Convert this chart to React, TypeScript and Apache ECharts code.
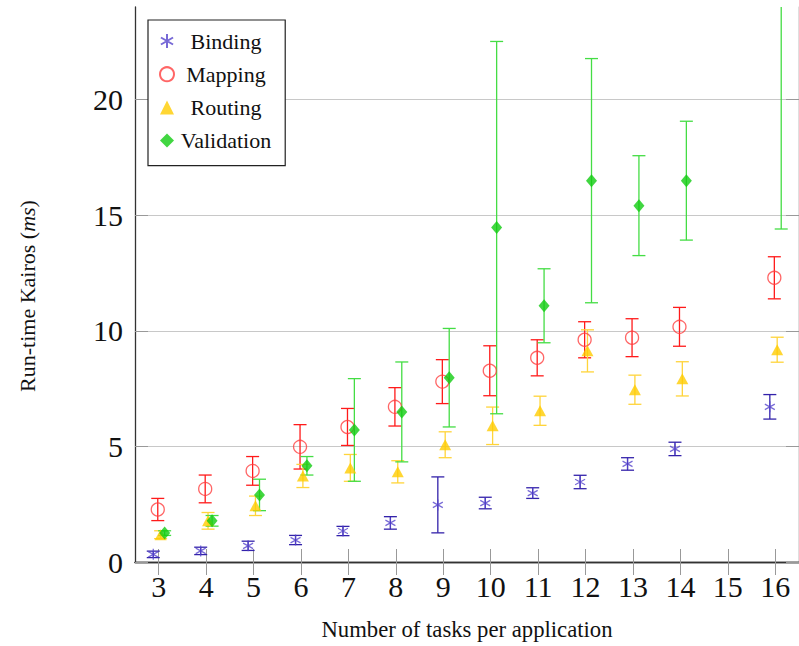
import React, { useEffect, useRef } from "react";
import * as echarts from "echarts";

// x categories: number of tasks per application
const tasks = [3, 4, 5, 6, 7, 8, 9, 10, 11, 12, 13, 14, 16];
const xTicks = [3, 4, 5, 6, 7, 8, 9, 10, 11, 12, 13, 14, 15, 16];
const yTicks = [0, 5, 10, 15, 20];

const bindingMean = [0.33, 0.48, 0.7, 0.95, 1.34, 1.69, 2.47, 2.55, 2.98, 3.46, 4.24, 4.89, 6.71];
const bindingErr = [0.14, 0.16, 0.2, 0.2, 0.2, 0.27, 1.21, 0.25, 0.23, 0.29, 0.27, 0.29, 0.53];

const mappingMean = [2.27, 3.16, 3.94, 4.98, 5.84, 6.71, 7.8, 8.27, 8.83, 9.61, 9.7, 10.17, 12.29];
const mappingErr = [0.48, 0.6, 0.62, 0.96, 0.8, 0.83, 0.95, 1.08, 0.78, 0.78, 0.82, 0.84, 0.91];

const routingMean = [1.18, 1.78, 2.43, 3.72, 4.07, 3.9, 5.07, 5.89, 6.54, 9.13, 7.45, 7.92, 9.18];
const routingErr = [0.17, 0.36, 0.42, 0.5, 0.58, 0.48, 0.56, 0.81, 0.63, 0.91, 0.63, 0.74, 0.54];

const validationMean = [1.25, 1.78, 2.9, 4.16, 5.71, 6.49, 7.97, 14.46, 11.08, 16.49, 15.41, 16.49, 25.6];
const validationErr = [0.1, 0.23, 0.68, 0.4, 2.22, 2.16, 2.13, 8.05, 1.6, 5.28, 2.16, 2.57, 11.2];

const FONT = "Liberation Serif";
const ASTERISK = "path://M0,-10L0,10M-8.66,-5L8.66,5M-8.66,5L8.66,-5";

type Def = {
  name: string;
  mean: number[];
  err: number[];
  offset: number;
  symbol: string;
  size: number | number[];
  itemStyle: any;
  errColor: string;
};

const defs: Def[] = [
  {
    name: "Binding",
    mean: bindingMean,
    err: bindingErr,
    offset: -0.115,
    symbol: ASTERISK,
    size: [10, 11],
    itemStyle: { color: "rgba(0,0,0,0)", borderColor: "#5544cc", borderWidth: 1.3 },
    errColor: "#3322aa",
  },
  {
    name: "Mapping",
    mean: mappingMean,
    err: mappingErr,
    offset: -0.02,
    symbol: "circle",
    size: 13,
    itemStyle: { color: "rgba(0,0,0,0)", borderColor: "#ff4040", borderWidth: 1.3 },
    errColor: "#ff1a1a",
  },
  {
    name: "Routing",
    mean: routingMean,
    err: routingErr,
    offset: 0.04,
    symbol: "triangle",
    size: [12, 11],
    itemStyle: { color: "#ffcc00" },
    errColor: "#ffd43a",
  },
  {
    name: "Validation",
    mean: validationMean,
    err: validationErr,
    offset: 0.125,
    symbol: "diamond",
    size: [11, 13],
    itemStyle: { color: "#11cc11" },
    errColor: "#44dd44",
  },
];

function buildSeries() {
  const out: any[] = [];
  defs.forEach((d) => {
    const data = tasks.map((t, i) => [t + d.offset, d.mean[i], d.err[i]]);
    out.push({
      name: d.name + " error",
      type: "custom",
      data,
      encode: { x: 0, y: 1 },
      renderItem: (params: any, api: any) => {
        const x = api.value(0);
        const y = api.value(1);
        const e = api.value(2);
        const cs = params.coordSys;
        const top = api.coord([x, y + e]);
        const bot = api.coord([x, y - e]);
        const yMin = cs.y;
        const yMax = cs.y + cs.height;
        const t = Math.max(top[1], yMin);
        const b = Math.min(bot[1], yMax);
        const style = { stroke: d.errColor, lineWidth: 1.3 };
        const children: any[] = [
          { type: "line", shape: { x1: top[0], y1: t, x2: top[0], y2: b }, style },
        ];
        if (top[1] >= yMin)
          children.push({ type: "line", shape: { x1: top[0] - 6.5, y1: top[1], x2: top[0] + 6.5, y2: top[1] }, style });
        if (bot[1] <= yMax)
          children.push({ type: "line", shape: { x1: bot[0] - 6.5, y1: bot[1], x2: bot[0] + 6.5, y2: bot[1] }, style });
        return { type: "group", children };
      },
      silent: true,
    });
    out.push({
      name: d.name,
      type: "scatter",
      data: data.map((p) => [p[0], p[1]]),
      symbol: d.symbol,
      symbolSize: d.size,
      itemStyle: d.itemStyle,
      clip: true,
    });
  });
  return out;
}

export default function App() {
  const ref = useRef<HTMLDivElement>(null);
  useEffect(() => {
    if (!ref.current) return;
    const chart = echarts.init(ref.current, null, { renderer: "svg" });
    const axisLine = { show: true, lineStyle: { color: "#333", width: 1.3 } };
    const tick = { show: true, inside: true, length: 13, lineStyle: { color: "#999", width: 1 } };
    chart.setOption({
      animation: false,
      backgroundColor: "#fff",
      textStyle: { fontFamily: FONT },
      grid: { left: 135, top: 7, width: 668, height: 556, containLabel: false },
      graphic: [
        {
          type: "text",
          x: 27,
          y: 296,
          rotation: Math.PI / 2,
          style: {
            text: "Run-time Kairos ({i|ms})",
            fontSize: 22,
            fontFamily: FONT,
            fill: "#111",
            align: "center",
            verticalAlign: "middle",
            rich: { i: { fontStyle: "italic", fontSize: 22, fontFamily: FONT, fill: "#111" } },
          },
        },
      ],
      legend: {
        data: defs.map((d) => d.name),
        orient: "vertical",
        left: 148,
        top: 20,
        padding: [10, 14, 14, 11],
        itemGap: 11.2,
        itemWidth: 14,
        itemHeight: 14,
        borderColor: "#222",
        borderWidth: 1.2,
        backgroundColor: "#fff",
        selectedMode: false,
        formatter: (n: string) => `{a|${n}}`,
        textStyle: {
          fontFamily: FONT,
          fontSize: 22,
          color: "#111",
          rich: { a: { width: 94, align: "center", fontSize: 22, fontFamily: FONT, color: "#111" } },
        },
      },
      xAxis: [
        {
          type: "value",
          min: 2.5,
          max: 16.5,
          position: "bottom",
          name: "Number of tasks per application",
          nameLocation: "middle",
          nameGap: 56,
          nameTextStyle: { fontSize: 22.7, fontFamily: FONT, color: "#111" },
          axisLine,
          axisTick: { ...tick, customValues: xTicks },
          axisLabel: { customValues: xTicks, fontSize: 30, fontFamily: FONT, color: "#111", margin: 9 },
          splitLine: { show: false },
        },
        {
          type: "value",
          min: 2.5,
          max: 16.5,
          position: "top",
          axisLine,
          axisTick: { ...tick, customValues: xTicks },
          axisLabel: { show: false },
          splitLine: { show: false },
        },
      ],
      yAxis: [
        {
          type: "value",
          min: 0,
          max: 24,
          interval: 5,
          position: "left",
          axisLine,
          axisTick: { ...tick, customValues: yTicks },
          axisLabel: { customValues: yTicks, fontSize: 30, fontFamily: FONT, color: "#111", margin: 12 },
          splitLine: { show: true, lineStyle: { color: "#c8c8c8", width: 1 } },
        },
        {
          type: "value",
          min: 0,
          max: 24,
          interval: 5,
          position: "right",
          axisLine,
          axisTick: { ...tick, customValues: yTicks },
          axisLabel: { show: false },
          splitLine: { show: false },
        },
      ],
      series: buildSeries(),
    });
    return () => chart.dispose();
  }, []);
  return <div ref={ref} style={{ position: "fixed", left: 0, top: 0, width: 799, height: 646 }} />;
}
